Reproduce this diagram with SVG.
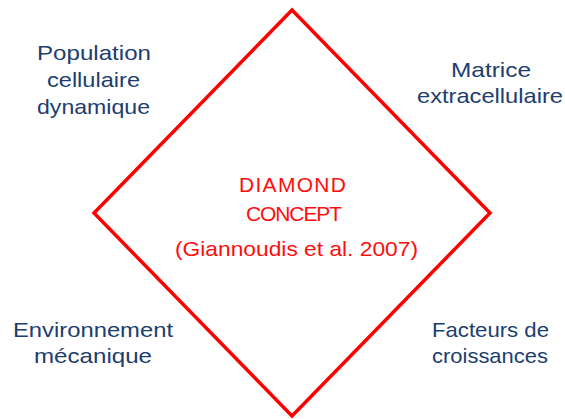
<svg xmlns="http://www.w3.org/2000/svg" width="565" height="419" viewBox="0 0 565 419">
<style>
.lbl{font-family:"Liberation Sans",Arial,sans-serif;font-size:21px;fill:#213d6e;text-anchor:middle}
.red{font-family:"Liberation Sans",Arial,sans-serif;font-size:21px;fill:#ff0d0d;text-anchor:middle}
.dia{fill:none;stroke:#ff0000;stroke-width:3.5;stroke-linejoin:miter}
</style>
<rect width="565" height="419" fill="#ffffff"/>
<g id="connectors"></g>
<g id="diamond">
<polygon class="dia" points="292,10 490,213 292,416 94,213"/>
<text class="red" x="292.5" y="192" textLength="107" lengthAdjust="spacing">DIAMOND</text>
<text class="red" x="294" y="221" textLength="96" lengthAdjust="spacing">CONCEPT</text>
<text class="red" x="296.5" y="256" textLength="243" lengthAdjust="spacingAndGlyphs">(Giannoudis et al. 2007)</text>
</g>
<g id="population">
<text class="lbl" x="94" y="60" textLength="114" lengthAdjust="spacingAndGlyphs">Population</text>
<text class="lbl" x="93.5" y="87" textLength="93" lengthAdjust="spacingAndGlyphs">cellulaire</text>
<text class="lbl" x="93.5" y="114" textLength="113" lengthAdjust="spacingAndGlyphs">dynamique</text>
</g>
<g id="matrice">
<text class="lbl" x="491" y="77" textLength="80" lengthAdjust="spacingAndGlyphs">Matrice</text>
<text class="lbl" x="490" y="103" textLength="146" lengthAdjust="spacingAndGlyphs">extracellulaire</text>
</g>
<g id="environnement">
<text class="lbl" x="93" y="337" textLength="160" lengthAdjust="spacingAndGlyphs">Environnement</text>
<text class="lbl" x="93" y="363" textLength="118" lengthAdjust="spacingAndGlyphs">mécanique</text>
</g>
<g id="facteurs">
<text class="lbl" x="490.5" y="337" textLength="117" lengthAdjust="spacingAndGlyphs">Facteurs de</text>
<text class="lbl" x="490" y="363" textLength="116" lengthAdjust="spacingAndGlyphs">croissances</text>
</g>
</svg>
